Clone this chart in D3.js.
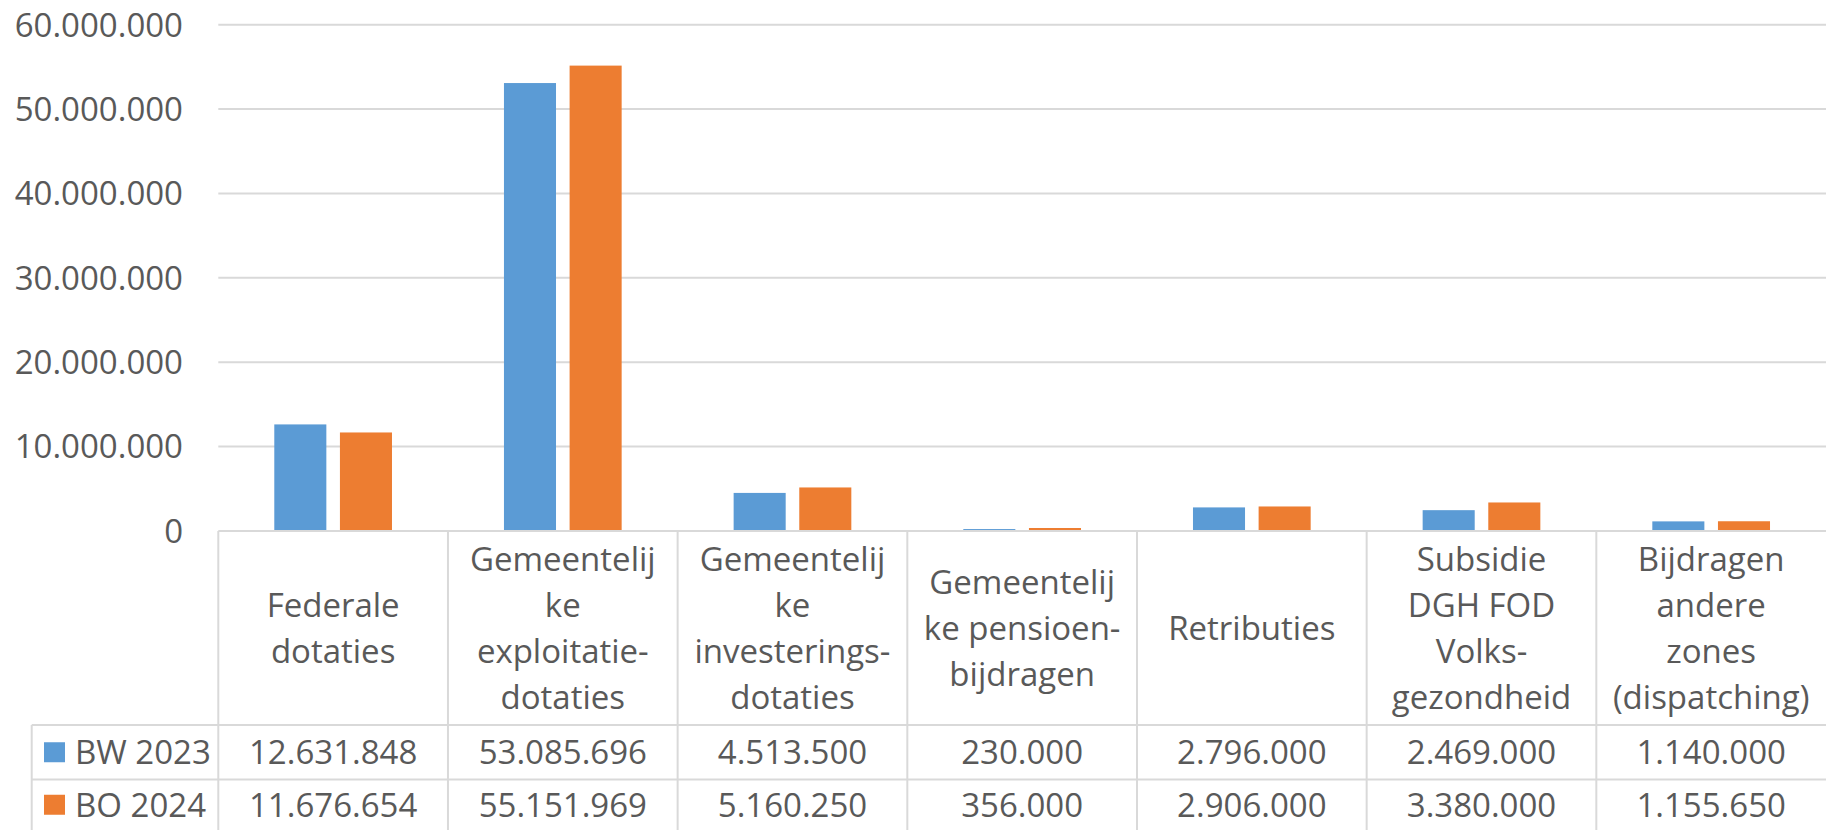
<!DOCTYPE html>
<html>
<head>
<meta charset="utf-8">
<script src="https://cdn.jsdelivr.net/npm/d3@7"></script>
<style>
  body { margin: 0; background: #fff; }
  text { font-family: "Open Sans", sans-serif; fill: #595959; }
</style>
</head>
<body>
<div id="chart"></div>
<script>
// chart data
const categories = [
    ['Federale', 'dotaties'],
    ['Gemeentelij', 'ke', 'exploitatie-', 'dotaties'],
    ['Gemeentelij', 'ke', 'investerings-', 'dotaties'],
    ['Gemeentelij', 'ke pensioen-', 'bijdragen'],
    ['Retributies'],
    ['Subsidie', 'DGH FOD', 'Volks-', 'gezondheid'],
    ['Bijdragen', 'andere', 'zones', '(dispatching)']
];
const seriesNames = ['BW 2023', 'BO 2024'];
const seriesColors = ['#5B9BD5', '#ED7D31'];
const bw2023 = [12631848, 53085696, 4513500, 230000, 2796000, 2469000, 1140000];
const bo2024 = [11676654, 55151969, 5160250, 356000, 2906000, 3380000, 1155650];
const yTicks = [0, 10000000, 20000000, 30000000, 40000000, 50000000, 60000000];

const width = 1826;
const height = 830;
const plotLeft = 218.3;
const plotTop = 24.7;
const zeroY = 531;
const legendLeft = 31.7;
const row1 = 725;
const row2 = 779.5;
const gridColor = '#D9D9D9';
const fontSize = 33;

const nl = d3.formatLocale({ decimal: ',', thousands: '.', grouping: [3], currency: ['€', ''] });
const fmt = nl.format(',d');

const svg = d3.select('#chart').append('svg')
    .attr('width', width)
    .attr('height', height);

const yScale = d3.scaleLinear()
    .domain([0, 60000000])
    .range([zeroY, plotTop]);

const x0 = d3.scaleBand()
    .domain(d3.range(categories.length))
    .range([plotLeft, width]);

const x1 = d3.scaleBand()
    .domain(d3.range(seriesNames.length))
    .range([0, x0.bandwidth()])
    .paddingInner(0.207)
    .paddingOuter(0.853);

// gridlines
svg.append('g')
    .selectAll('line')
    .data(yTicks.slice(1))
    .enter()
    .append('line')
        .attr('x1', plotLeft)
        .attr('x2', width)
        .attr('y1', d => yScale(d))
        .attr('y2', d => yScale(d))
        .attr('stroke', gridColor)
        .attr('stroke-width', 2);

// y labels
svg.append('g')
    .selectAll('text')
    .data(yTicks)
    .enter()
    .append('text')
        .attr('x', 183)
        .attr('y', d => yScale(d))
        .attr('dy', '0.36em')
        .attr('text-anchor', 'end')
        .style('font-size', fontSize + 'px')
        .text(d => fmt(d));

// bars
const series = [bw2023, bo2024];
series.forEach((vals, s) => {
    svg.append('g')
        .selectAll('rect')
        .data(vals)
        .enter()
        .append('rect')
            .attr('x', (d, i) => x0(i) + x1(s))
            .attr('y', d => yScale(d))
            .attr('width', x1.bandwidth())
            .attr('height', d => zeroY - yScale(d))
            .attr('fill', seriesColors[s]);
});

// data table lines
const tableG = svg.append('g')
    .attr('stroke', gridColor)
    .attr('stroke-width', 2);

tableG.append('line')
    .attr('x1', plotLeft).attr('x2', width)
    .attr('y1', zeroY).attr('y2', zeroY);

[row1, row2].forEach(y => {
    tableG.append('line')
        .attr('x1', legendLeft).attr('x2', width)
        .attr('y1', y).attr('y2', y);
});

tableG.append('line')
    .attr('x1', legendLeft).attr('x2', legendLeft)
    .attr('y1', row1).attr('y2', height);

// vertical separators (no border on the far right)
d3.range(categories.length).forEach(i => {
    tableG.append('line')
        .attr('x1', x0(i)).attr('x2', x0(i))
        .attr('y1', zeroY).attr('y2', height);
});

// category header labels
const lineHeight = 46;
const headerMid = (zeroY + row1) / 2;
categories.forEach((lines, i) => {
    const cx = x0(i) + x0.bandwidth() / 2;
    const startY = headerMid - (lines.length - 1) * lineHeight / 2;
    const t = svg.append('text')
        .attr('text-anchor', 'middle')
        .style('font-size', fontSize + 'px');
    lines.forEach((ln, j) => {
        t.append('tspan')
            .attr('x', cx)
            .attr('y', startY + j * lineHeight)
            .attr('dy', '0.36em')
            .text(ln);
    });
});

// value rows with legend keys
const rowMids = [(row1 + row2) / 2, (row2 + height) / 2];
series.forEach((vals, s) => {
    const my = rowMids[s];
    svg.append('rect')
        .attr('x', 44)
        .attr('y', my - 10)
        .attr('width', 21)
        .attr('height', 20)
        .attr('fill', seriesColors[s]);
    svg.append('text')
        .attr('x', 75)
        .attr('y', my)
        .attr('dy', '0.36em')
        .style('font-size', fontSize + 'px')
        .text(seriesNames[s]);
    svg.append('g')
        .selectAll('text')
        .data(vals)
        .enter()
        .append('text')
            .attr('x', (d, i) => x0(i) + x0.bandwidth() / 2)
            .attr('y', my)
            .attr('dy', '0.36em')
            .attr('text-anchor', 'middle')
            .style('font-size', fontSize + 'px')
            .text(d => fmt(d));
});
</script>
</body>
</html>
